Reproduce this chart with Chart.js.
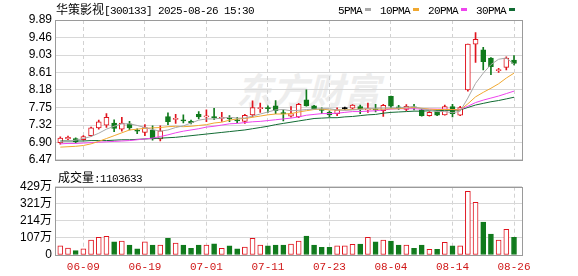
<!DOCTYPE html>
<html>
<head>
<meta charset="utf-8">
<script src="https://cdn.jsdelivr.net/npm/chart.js@4.4.1/dist/chart.umd.min.js"></script>
<style>
body { margin: 0; background: #fff; }
#wrap { position: relative; width: 578px; height: 276px; overflow: hidden; }
canvas { position: absolute; left: 0; }
.t { position: absolute; white-space: nowrap; color: #000; line-height: 14px; }
.cjk { font-family: "Noto Sans CJK SC"; font-size: 12px; }
.mono { font-family: "Liberation Mono"; font-size: 11px; letter-spacing: -0.6px; }
.mk { display: inline-block; width: 6px; height: 3px; margin: 0 9px 2px 3px; vertical-align: middle; }
#wm { position: absolute; left: 236px; top: 62px; font-family: "Noto Sans CJK SC"; font-weight: bold;
      font-size: 36px; color: #ededed; font-style: italic; }
</style>
</head>
<body>
<div id="wrap">
  <div id="wm">东方财富</div>
  <canvas id="kline" width="578" height="170" style="top:0"></canvas>
  <canvas id="vol" width="578" height="106" style="top:170px"></canvas>
  <div class="t" style="left:56px; top:2px"><span class="cjk">华策影视</span><span class="mono">[300133] 2025-08-26 15:30</span></div>
  <div class="t" style="left:338px; top:2px" id="legend"></div>
  <div class="t" style="left:58px; top:170px"><span class="cjk">成交量</span><span class="mono">:1103633</span></div>
</div>
<script>
// Handelstage
const dates = ['06-04','06-05','06-06','06-09','06-10','06-11','06-12','06-13','06-16','06-17',
  '06-18','06-19','06-20','06-23','06-24','06-25','06-26','06-27','06-30','07-01',
  '07-02','07-03','07-04','07-07','07-08','07-09','07-10','07-11','07-14','07-15',
  '07-16','07-17','07-18','07-21','07-22','07-23','07-24','07-25','07-28','07-29',
  '07-30','07-31','08-01','08-04','08-05','08-06','08-07','08-08','08-11','08-12',
  '08-13','08-14','08-15','08-18','08-19','08-20','08-21','08-22','08-25','08-26'];
const tickDates = ['06-09','06-19','07-01','07-11','07-23','08-04','08-14','08-26'];

// Kurse
const openP = [6.89,6.98,6.99,6.96,7.06,7.25,7.32,7.37,7.22,7.35,
  7.19,7.14,7.19,6.98,7.53,7.46,7.45,7.41,7.58,7.52,
  7.52,7.48,7.49,7.45,7.41,7.57,7.72,7.74,7.79,7.62,
  7.54,7.52,7.94,7.79,7.70,7.63,7.60,7.72,7.73,7.77,
  7.69,7.71,7.67,8.02,7.76,7.70,7.76,7.69,7.55,7.65,
  7.57,7.77,7.56,8.18,9.30,9.16,8.96,8.65,8.73,8.91];
const closeP = [7.00,7.02,6.91,7.04,7.25,7.40,7.51,7.24,7.37,7.25,
  7.17,7.26,6.98,7.18,7.40,7.48,7.42,7.38,7.52,7.54,
  7.50,7.51,7.47,7.42,7.56,7.75,7.74,7.72,7.67,7.60,
  7.60,7.83,7.79,7.72,7.68,7.57,7.69,7.72,7.81,7.71,
  7.71,7.69,7.80,7.78,7.74,7.78,7.74,7.55,7.63,7.56,
  7.77,7.60,7.75,9.30,9.42,8.87,8.75,8.67,8.96,8.83];
const highP = [7.03,7.05,7.01,7.06,7.27,7.44,7.60,7.45,7.51,7.41,
  7.23,7.33,7.30,7.30,7.62,7.58,7.57,7.44,7.65,7.69,
  7.73,7.63,7.55,7.51,7.58,7.91,7.86,7.79,7.92,7.69,
  7.77,7.85,8.18,7.80,7.74,7.67,7.74,7.76,7.82,7.81,
  7.86,7.83,7.83,8.03,7.80,7.82,7.83,7.72,7.65,7.67,
  7.81,7.83,7.78,9.30,9.58,9.22,8.97,8.71,8.99,9.02];
const lowP = [6.85,6.96,6.88,6.95,7.04,7.22,7.26,7.16,7.17,7.20,
  7.11,7.06,6.95,6.93,7.33,7.36,7.37,7.35,7.47,7.40,
  7.45,7.41,7.40,7.38,7.36,7.52,7.63,7.63,7.60,7.42,
  7.51,7.50,7.78,7.70,7.60,7.52,7.55,7.70,7.71,7.60,
  7.63,7.64,7.53,7.73,7.70,7.67,7.69,7.54,7.54,7.55,
  7.56,7.52,7.55,8.15,8.85,8.67,8.55,8.61,8.67,8.79];

// Gleitende Durchschnitte
const ma5 = [6.90,6.93,6.95,6.99,7.04,7.12,7.22,7.29,7.35,7.35,
  7.31,7.26,7.21,7.17,7.20,7.26,7.30,7.37,7.44,7.47,
  7.47,7.49,7.51,7.49,7.49,7.54,7.59,7.64,7.69,7.70,
  7.67,7.68,7.70,7.71,7.72,7.72,7.69,7.68,7.69,7.70,
  7.73,7.73,7.74,7.74,7.74,7.76,7.77,7.72,7.69,7.65,
  7.65,7.62,7.66,7.98,8.34,8.59,8.80,8.93,8.96,8.81];
const ma10 = [6.78,6.79,6.80,6.82,6.86,6.92,6.99,7.06,7.13,7.20,
  7.22,7.24,7.25,7.26,7.28,7.29,7.28,7.29,7.31,7.33,
  7.37,7.39,7.44,7.47,7.48,7.51,7.54,7.57,7.59,7.59,
  7.60,7.64,7.67,7.70,7.71,7.69,7.69,7.69,7.70,7.71,
  7.72,7.71,7.71,7.72,7.72,7.74,7.75,7.73,7.71,7.70,
  7.70,7.70,7.69,7.84,8.01,8.12,8.22,8.33,8.47,8.59];
const ma20 = [6.86,6.87,6.87,6.88,6.89,6.90,6.91,6.92,6.93,6.94,
  6.96,6.98,7.00,7.04,7.08,7.13,7.17,7.20,7.23,7.27,
  7.29,7.32,7.35,7.36,7.38,7.40,7.41,7.43,7.45,7.47,
  7.49,7.52,7.56,7.58,7.60,7.60,7.61,7.63,7.65,7.65,
  7.66,7.67,7.69,7.71,7.72,7.72,7.72,7.71,7.71,7.71,
  7.71,7.70,7.70,7.78,7.87,7.93,7.98,8.03,8.09,8.15];
const ma30 = [6.93,6.93,6.93,6.93,6.94,6.94,6.94,6.95,6.96,6.96,
  6.97,6.98,6.99,7.00,7.01,7.02,7.04,7.06,7.08,7.10,
  7.12,7.14,7.16,7.18,7.20,7.23,7.26,7.29,7.33,7.36,
  7.39,7.42,7.45,7.48,7.49,7.50,7.50,7.52,7.53,7.55,
  7.57,7.58,7.61,7.63,7.64,7.65,7.66,7.66,7.67,7.67,
  7.68,7.68,7.69,7.75,7.81,7.85,7.89,7.92,7.96,8.00];

// Volumen in 万
const volume = [57,44,27,38,94,111,117,82,88,63,
  38,82,63,63,105,75,63,42,63,63,
  70,42,57,38,50,105,63,57,63,63,
  69,88,119,63,48,48,57,57,67,69,
  111,82,94,88,63,63,42,63,36,36,
  80,57,57,400,331,207,132,94,161,110.36];

const priceTicks = [6.47,6.90,7.32,7.75,8.18,8.61,9.03,9.46,9.89];
const volTicks = [0,107,214,321,429];

const maNames = ['5PMA','10PMA','20PMA','30PMA'];
const maColors = ['#a8a8a8','#f0a830','#ee44ee','#116b33'];

const RED = '#e0141e';
const GREEN = '#107a1c';

const candleColor = closeP.map((c, i) => c > openP[i] ? RED : (c < openP[i] ? GREEN : '#000'));
const bodyFill = closeP.map((c, i) => c > openP[i] ? '#fff' : candleColor[i]);
const volColor = closeP.map((c, i) => c >= openP[i] ? RED : GREEN);
const volFill = closeP.map((c, i) => c >= openP[i] ? '#fff' : GREEN);

// Legende
document.getElementById('legend').innerHTML = maNames.map((n, i) =>
  `<span class="mono">${n}</span><span class="mk" style="background:${maColors[i]}"></span>`).join('');

// Rahmen um die Zeichenfläche
const framePlugin = {
  id: 'frame',
  afterDraw(chart) {
    const { ctx, chartArea: a } = chart;
    ctx.save();
    ctx.strokeStyle = '#9a9a9a';
    ctx.lineWidth = 1;
    ctx.strokeRect(Math.round(a.left) + 0.5, Math.round(a.top) + 0.5,
      Math.round(a.right - a.left), Math.round(a.bottom - a.top));
    ctx.restore();
  }
};

function xAxis(showLabels) {
  return {
    type: 'linear',
    min: -0.69,
    max: 60.04,
    offset: false,
    afterBuildTicks: s => { s.ticks = tickDates.map(d => ({ value: dates.indexOf(d) })); },
    ticks: {
      display: showLabels,
      autoSkip: false,
      maxRotation: 0,
      padding: 5,
      color: '#d01818',
      font: { family: 'Liberation Mono', size: 11 },
      callback: v => dates[v]
    },
    grid: { color: '#d2d2d2', drawTicks: false, offset: false },
    border: { display: false, dash: [4, 3] },
    afterFit: s => { s.height = showLabels ? 21 : 0; }
  };
}

const tickFont = { family: "'Liberation Sans', 'Noto Sans CJK SC'", size: 12 };

// K-Linien-Diagramm
new Chart(document.getElementById('kline'), {
  type: 'bar',
  data: {
    datasets: [
      ...[ma5, ma10, ma20, ma30].map((arr, k) => ({
        type: 'line',
        data: arr.map((v, i) => ({ x: i, y: v })),
        borderColor: maColors[k],
        borderWidth: 1,
        pointRadius: 0,
        tension: 0,
        order: 0
      })),
      {
        type: 'bar',
        data: dates.map((d, i) => ({ x: i, y: [openP[i], closeP[i]] })),
        backgroundColor: bodyFill,
        borderColor: candleColor,
        borderWidth: 1,
        borderSkipped: false,
        barThickness: 5,
        minBarLength: 1,
        grouped: false,
        order: 1
      },
      {
        type: 'bar',
        data: dates.map((d, i) => ({ x: i, y: [lowP[i], highP[i]] })),
        backgroundColor: candleColor,
        barThickness: 1,
        grouped: false,
        order: 2
      }
    ]
  },
  options: {
    responsive: false,
    animation: false,
    layout: { padding: { left: 0, right: 56, top: 20, bottom: 5 } },
    plugins: { legend: { display: false }, tooltip: { enabled: false } },
    scales: {
      x: xAxis(false),
      y: {
        min: 6.47,
        max: 9.89,
        afterBuildTicks: s => { s.ticks = priceTicks.map(v => ({ value: v })); },
        ticks: { color: '#000', font: tickFont, padding: 3, autoSkip: false, callback: v => v.toFixed(2) },
        grid: { color: '#d8d8d8', drawTicks: false },
        border: { display: false },
        afterFit: s => { s.width = 55; }
      }
    }
  },
  plugins: [framePlugin]
});

// Volumen-Diagramm
new Chart(document.getElementById('vol'), {
  type: 'bar',
  data: {
    datasets: [{
      data: volume.map((v, i) => ({ x: i, y: v })),
      backgroundColor: volFill,
      borderColor: volColor,
      borderWidth: 1,
      borderSkipped: false,
      barThickness: 5,
      grouped: false
    }]
  },
  options: {
    responsive: false,
    animation: false,
    layout: { padding: { left: 0, right: 56, top: 16.7, bottom: 0 } },
    plugins: { legend: { display: false }, tooltip: { enabled: false } },
    scales: {
      x: xAxis(true),
      y: {
        min: 0,
        max: 429,
        afterBuildTicks: s => { s.ticks = volTicks.map(v => ({ value: v })); },
        ticks: { color: '#000', font: tickFont, padding: 3, autoSkip: false, callback: v => v === 0 ? '0' : v + '万' },
        grid: { color: '#d8d8d8', drawTicks: false },
        border: { display: false },
        afterFit: s => { s.width = 55; }
      }
    }
  },
  plugins: [framePlugin]
});
</script>
</body>
</html>
